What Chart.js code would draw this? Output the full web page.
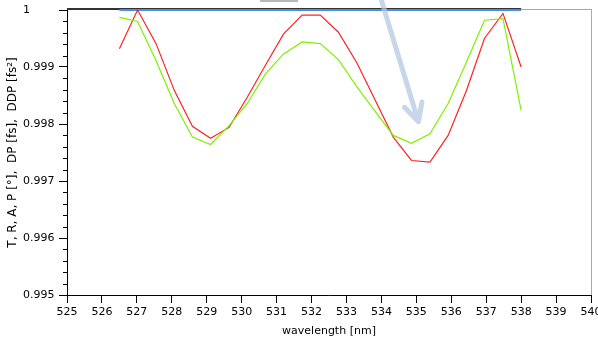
<!DOCTYPE html>
<html>
<head>
<meta charset="utf-8">
<script src="https://cdn.jsdelivr.net/npm/chart.js@4"></script>
<style>
  html, body { margin: 0; padding: 0; background: #fff; }
</style>
</head>
<body>
<canvas id="chart" width="598" height="342"></canvas>
<script>
// Spectrum samples (nm)
const wavelengths = [526.50, 527.02, 527.55, 528.07, 528.59, 529.11, 529.64, 530.16, 530.68, 531.20, 531.73, 532.25,
                     532.77, 533.30, 533.82, 534.34, 534.86, 535.39, 535.91, 536.43, 536.95, 537.48, 538.00];
const redValues = [0.99932, 1.00000, 0.99941, 0.99859, 0.99796, 0.99775, 0.99794, 0.99847, 0.99903, 0.99958, 0.99991, 0.99991,
                   0.99961, 0.99907, 0.99842, 0.99777, 0.99736, 0.99733, 0.99780, 0.99858, 0.99950, 0.99994, 0.99900];
const greenValues = [0.99987, 0.99980, 0.99911, 0.99836, 0.99777, 0.99764, 0.99797, 0.99836, 0.99888, 0.99923, 0.99944, 0.99941,
                     0.99913, 0.99865, 0.99822, 0.99780, 0.99766, 0.99783, 0.99836, 0.99908, 0.99982, 0.99985, 0.99824];
const blueValues = [1, 1, 1, 1, 1, 1, 1, 1, 1, 1, 1, 1, 1, 1, 1, 1, 1, 1, 1, 1, 1, 1, 1];

const xTicks = [525, 526, 527, 528, 529, 530, 531, 532, 533, 534, 535, 536, 537, 538, 539, 540];
const yTicks = [0.995, 0.996, 0.997, 0.998, 0.999, 1];
const yMinorSteps = 5;

const xTitle = "wavelength [nm]";
const yTitle = "T, R, A, P [°],  DP [fs],  DDP [fs²]";

// annotation arrow, in data units
const arrowFrom = { x: 534.0, y: 1.00017 };
const arrowTo = { x: 535.06, y: 0.99804 };

const FONT = "DejaVu Sans";

function toPoints(ys) {
    return ys.map((y, i) => ({ x: wavelengths[i], y: y }));
}

const decorations = {
    id: "decorations",
    beforeDatasetsDraw(chart) {
        const { ctx, chartArea: a } = chart;
        const xEnd = chart.scales.x.getPixelForValue(wavelengths[wavelengths.length - 1]);
        ctx.save();
        // frame: right + top
        ctx.strokeStyle = "#a8a8a8";
        ctx.lineWidth = 1;
        ctx.beginPath();
        ctx.moveTo(a.right + 0.5, a.top - 1);
        ctx.lineTo(a.right + 0.5, a.bottom);
        ctx.moveTo(xEnd, a.top - 0.5);
        ctx.lineTo(a.right, a.top - 0.5);
        ctx.stroke();
        ctx.strokeStyle = "#333";
        ctx.lineWidth = 2;
        ctx.beginPath();
        ctx.moveTo(a.left, a.top - 1);
        ctx.lineTo(xEnd, a.top - 1);
        ctx.stroke();
        // small grey box at top
        ctx.fillStyle = "#b4b9c0";
        ctx.fillRect(260, 0, 38, 2);
        ctx.restore();
    },
    afterDatasetsDraw(chart) {
        const { ctx } = chart;
        const x = chart.scales.x, y = chart.scales.y;
        const x0 = x.getPixelForValue(arrowFrom.x), y0 = y.getPixelForValue(arrowFrom.y);
        const x1 = x.getPixelForValue(arrowTo.x), y1 = y.getPixelForValue(arrowTo.y);
        const ang = Math.atan2(y0 - y1, x0 - x1);
        const spread = 27 * Math.PI / 180, len = 20;
        ctx.save();
        ctx.strokeStyle = "rgba(180, 202, 225, 0.75)";
        ctx.lineWidth = 5;
        ctx.lineCap = "round";
        ctx.lineJoin = "round";
        ctx.beginPath();
        ctx.moveTo(x0, y0);
        ctx.lineTo(x1, y1);
        ctx.moveTo(x1 + len * Math.cos(ang - spread), y1 + len * Math.sin(ang - spread));
        ctx.lineTo(x1, y1);
        ctx.lineTo(x1 + len * Math.cos(ang + spread), y1 + len * Math.sin(ang + spread));
        ctx.stroke();
        ctx.restore();
    },
    afterDraw(chart) {
        const { ctx, chartArea: a } = chart;
        const y = chart.scales.y;
        ctx.save();
        // minor y ticks
        ctx.strokeStyle = "#000";
        ctx.lineWidth = 1;
        ctx.beginPath();
        for (let i = 0; i < yTicks.length - 1; i++) {
            for (let k = 1; k < yMinorSteps; k++) {
                const v = yTicks[i] + (yTicks[i + 1] - yTicks[i]) * k / yMinorSteps;
                const py = Math.round(y.getPixelForValue(v)) + 0.5;
                ctx.moveTo(a.left - 4, py);
                ctx.lineTo(a.left, py);
            }
        }
        ctx.stroke();
        // y title
        ctx.fillStyle = "#000";
        ctx.font = "12px '" + FONT + "'";
        ctx.textAlign = "center";
        ctx.textBaseline = "middle";
        ctx.translate(13, (a.top + a.bottom) / 2);
        ctx.rotate(-Math.PI / 2);
        ctx.fillText(yTitle, 0, 0);
        ctx.restore();
    }
};

new Chart(document.getElementById("chart"), {
    type: "line",
    data: {
        datasets: [
            { label: "R", data: toPoints(greenValues), borderColor: "#80f000", borderWidth: 1.2 },
            { label: "T", data: toPoints(redValues), borderColor: "#ff2222", borderWidth: 1.2 },
            { label: "A", data: toPoints(blueValues), borderColor: "#4a90e2", borderWidth: 2 }
        ]
    },
    options: {
        responsive: false,
        animation: false,
        devicePixelRatio: 1,
        layout: { padding: { left: 23, top: 10, right: 7, bottom: 0 } },
        elements: { point: { radius: 0 }, line: { tension: 0 } },
        datasets: { line: { clip: false } },
        plugins: { legend: { display: false }, tooltip: { enabled: false } },
        scales: {
            x: {
                type: "linear",
                min: 525,
                max: 540,
                afterBuildTicks: (s) => { s.ticks = xTicks.map(v => ({ value: v })); },
                afterFit: (s) => { s.height = 47; s.paddingLeft = 0; s.paddingRight = 0; },
                grid: { drawOnChartArea: false, tickLength: 8, color: "#000" },
                border: { color: "#000" },
                ticks: { color: "#000", font: { family: FONT, size: 11 }, padding: 3, maxRotation: 0, autoSkip: false },
                title: { display: true, text: xTitle, color: "#000", font: { family: FONT, size: 11 }, padding: { top: 0, bottom: 4 } }
            },
            y: {
                min: 0.995,
                max: 1,
                afterBuildTicks: (s) => { s.ticks = yTicks.map(v => ({ value: v })); },
                afterFit: (s) => { s.width = 44; s.paddingTop = 0; s.paddingBottom = 0; },
                grid: { drawOnChartArea: false, tickLength: 8, color: "#000" },
                border: { color: "#000" },
                ticks: {
                    color: "#000",
                    font: { family: FONT, size: 11 },
                    crossAlign: "far",
                    autoSkip: false,
                    callback: (v) => String(Math.round(v * 1000) / 1000)
                }
            }
        }
    },
    plugins: [decorations]
});
</script>
</body>
</html>
